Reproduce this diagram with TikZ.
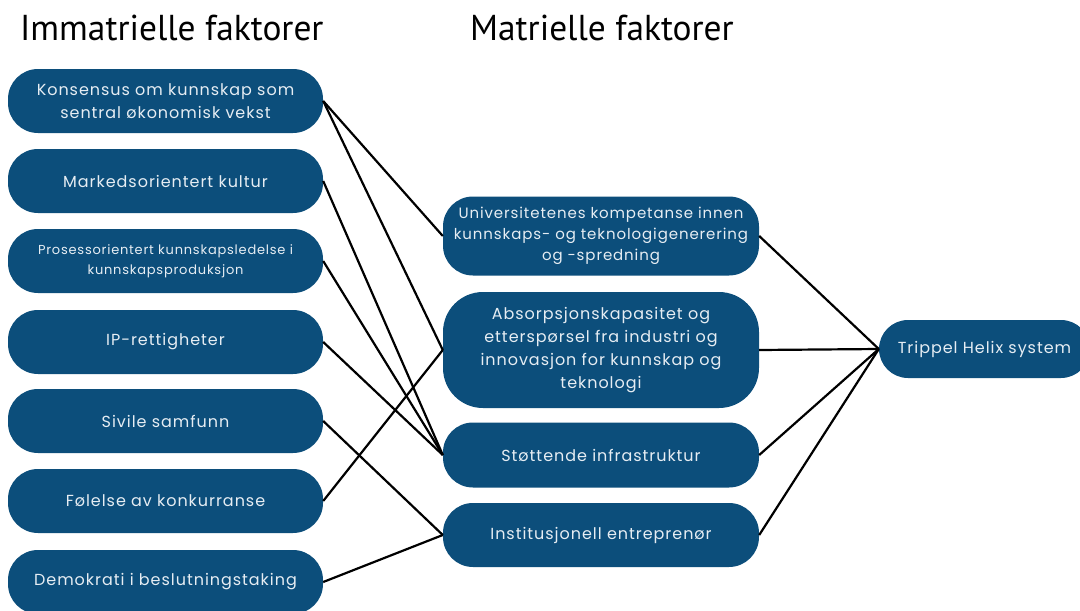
\documentclass[tikz,border=0pt]{standalone}
\usepackage{fontspec}
\setmainfont[LetterSpace=6]{Poppins}
\newfontfamily\titlefont[FakeStretch=0.983]{PT Sans}
\definecolor{boxblue}{HTML}{0C4E7B}
\definecolor{boxtext}{HTML}{E6EDF3}
\begin{document}
\begin{tikzpicture}[x=1pt,y=-1pt,
  factor/.style={draw=none,fill=boxblue,rounded corners=30pt,text=boxtext,
    align=center,inner sep=0pt,font=\fontsize{16}{23}\selectfont},
  leftbox/.style={factor,minimum width=315pt,minimum height=64pt},
  midbox/.style={factor,minimum width=316pt},
  heading/.style={anchor=base west,inner sep=0pt,font=\titlefont\fontsize{36}{40}\selectfont},
  link/.style={draw=black,line width=2.2pt}]
\useasboundingbox (0,0) rectangle (1080,611);
\clip (0,0) rectangle (1080,611);

% column headings
\node[heading] (h1) at (20,40) {Immatrielle faktorer};
\node[heading] (h2) at (470,40) {Matrielle faktorer};

% immaterial factors
\node[leftbox] (kons) at (165.5,101) {Konsensus om kunnskap som\\sentral økonomisk vekst};
\node[leftbox] (mark) at (165.5,181) {Markedsorientert kultur};
\node[leftbox,font=\fontsize{13}{20}\selectfont] (pros) at (165.5,261) {Prosessorientert kunnskapsledelse i\\kunnskapsproduksjon};
\node[leftbox] (ip) at (165.5,342) {IP-rettigheter};
\node[leftbox] (siv) at (165.5,421) {Sivile samfunn};
\node[leftbox] (fol) at (165.5,501) {Følelse av konkurranse};
\node[leftbox] (dem) at (165.5,582) {Demokrati i beslutningstaking};

% material factors
\node[midbox,minimum height=79pt,font=\fontsize{15}{21}\selectfont] (univ) at (601,236) {Universitetenes kompetanse innen\\kunnskaps- og teknologigenerering\\og -spredning};
\node[midbox,minimum height=116pt,rounded corners=40pt] (abs) at (601,350) {Absorpsjonskapasitet og\\etterspørsel fra industri og\\innovasjon for kunnskap og\\teknologi};
\node[midbox,minimum height=65pt] (sto) at (601,455) {Støttende infrastruktur};
\node[midbox,minimum height=64pt] (inst) at (601,535) {Institusjonell entreprenør};

% outcome
\node[factor,minimum width=211pt,minimum height=58pt,rounded corners=29pt] (th) at (984.5,349) {Trippel Helix system};

% links between immaterial and material factors
\draw[link] (kons.east) -- (univ.west);
\draw[link] (kons.east) -- (abs.west);
\draw[link] (mark.east) -- (sto.west);
\draw[link] (pros.east) -- (sto.west);
\draw[link] (ip.east) -- (sto.west);
\draw[link] (siv.east) -- (inst.west);
\draw[link] (fol.east) -- (abs.west);
\draw[link] (dem.east) -- (inst.west);

% links to the triple helix
\draw[link] (univ.east) -- (th.west);
\draw[link] (abs.east) -- (th.west);
\draw[link] (sto.east) -- (th.west);
\draw[link] (inst.east) -- (th.west);
\end{tikzpicture}
\end{document}
